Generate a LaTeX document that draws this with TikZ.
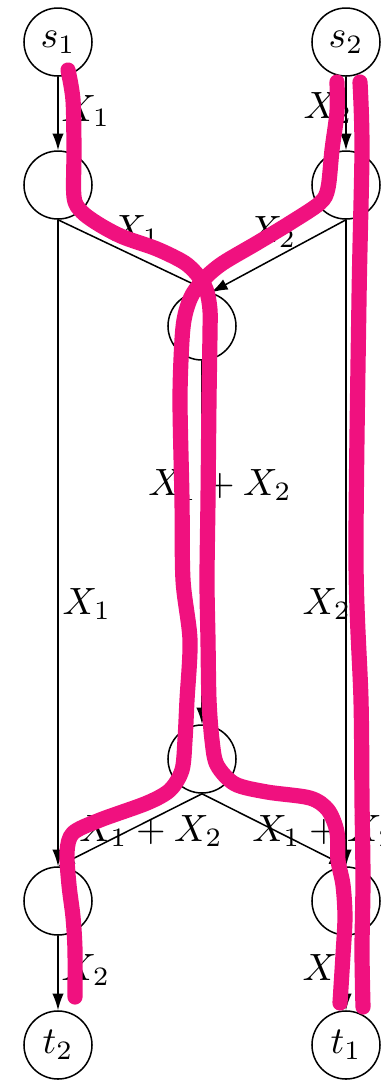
\documentclass[tikz,border=0pt]{standalone}
\usepackage{amsmath}
\usepackage{xcolor}
\usetikzlibrary{arrows.meta}
\definecolor{penpink}{RGB}{240,17,127}

\begin{document}
\begin{tikzpicture}[x=0.2632pt,y=-0.2632pt,
    vtx/.style={circle,draw,minimum size=17.9pt,inner sep=0pt},
    flow/.style={-{Latex[length=4.4pt,width=3pt]}},
    lbl/.style={inner sep=0pt},
    hand/.style={draw=penpink,line width=4pt,line cap=round,line join=round}]
  \useasboundingbox (0,0) rectangle (381,1081);
  % Vertices
  \foreach \n/\x/\y/\t in {s1/58/42/{$s_1$}, s2/346/42/{$s_2$},
                           a1/58/185/{}, a2/346/185/{},
                           m1/202/326/{}, m2/202/759/{},
                           b1/58/901/{}, b2/346/901/{},
                           t2/58/1045/{$t_2$}, t1/346/1045/{$t_1$}}{
    \node[vtx] (\n) at (\x,\y) {\t};
  }
  % Edges
  \draw[flow] (s1) -- (a1);
  \draw[flow] (s2) -- (a2);
  \draw[flow] (a1.south) -- (m1.75);
  \draw[flow] (a2.south) -- (m1.75);
  \draw[flow] (a1) -- (b1);
  \draw[flow] (a2) -- (b2);
  \draw[flow] (m1) -- (m2);
  \draw[flow] (m2.south) -- (b1.north);
  \draw[flow] (m2.south) -- (b2.north);
  \draw[flow] (b1) -- (t2);
  \draw[flow] (b2) -- (t1);
  % Edge labels
  \foreach \n/\x/\y/\t in {e1/86/111/{$X_1$}, e2/328/108/{$X_2$},
                           e3/136/231/{$X_1$}, e4/272/232/{$X_2$},
                           e5/87/604/{$X_1$}, e6/327/604/{$X_2$},
                           e7/220/485/{$X_1+X_2$},
                           e8/151/831/{$X_1+X_2$}, e9/324/831/{$X_1+X_2$},
                           e10/86/970/{$X_2$}, e11/327/970/{$X_1$}}{
    \node[lbl] (\n) at (\x,\y) {\t};
  }
  % Hand-drawn paths
  \draw[hand] plot[smooth,tension=0.5] coordinates {
    (68,70) (73,100) (74,150) (74,197) (82,212) (100,225) (123,237)
    (157,249) (185,263) (200,278) (207,292) (210,310) (210,333)
    (209,400) (208,500) (207,580) (208,640) (209,700) (212,740)
    (217,765) (235,784) (267,792) (310,798) (328,810) (337,832)
    (338,860) (343,885) (345,917) (343,955) (340,1003)};
  \draw[hand] plot[smooth,tension=0.5] coordinates {
    (337,82) (337,112) (332,150) (328,188) (320,203) (290,223) (257,243)
    (223,263) (205,278) (192,295) (185,315) (182,340) (180,400)
    (182,500) (183,580) (190,640) (187,700) (185,740) (182,770)
    (170,790) (147,803) (100,820) (73,833) (67,852) (69,885)
    (73,917) (75,950) (75,997)};
  \draw[hand] plot[smooth,tension=0.5] coordinates {
    (360,82) (362,150) (359,300) (356,560) (361,700) (362,800)
    (363,880) (362,950) (363,1007)};
\end{tikzpicture}
\end{document}
